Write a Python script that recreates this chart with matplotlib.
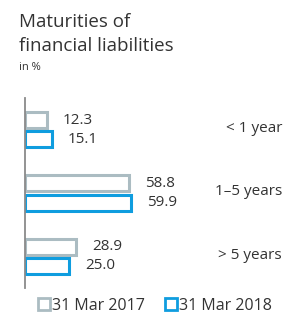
import matplotlib.pyplot as plt
from matplotlib.lines import Line2D
import matplotlib.transforms as mtransforms

plt.rcParams['font.family'] = ['Open Sans', 'DejaVu Sans']

# data
categories = ['< 1 year', '1\u20135 years', '> 5 years']
values_2017 = [12.3, 58.8, 28.9]
values_2018 = [15.1, 59.9, 25.0]
series_labels = ['31 Mar 2017', '31 Mar 2018']

gray = '#abbcc2'
blue = '#0f9ddf'
text_color = '#333333'

W, H = 284, 316
fig = plt.figure(figsize=(W / 100, H / 100), dpi=100)

# axes box in pixels: left line at x=25, from y=98 to y=288
ax = fig.add_axes([25 / W, (H - 288) / H, (260 - 25) / W, (288 - 98) / H])
ax.set_xlim(0, 235 / 1.77)
ax.set_ylim(3.0, 0)

centers = [0.5, 1.5, 2.5]
off = 0.152
bh = 0.25
y17 = [c - off for c in centers]
y18 = [c + off for c in centers]

ax.barh(y17, values_2017, height=bh, color='white', edgecolor=gray, linewidth=2.2)
ax.barh(y18, values_2018, height=bh, color='white', edgecolor=blue, linewidth=2.2)

for y, v in zip(y17, values_2017):
    ax.annotate(f'{v:.1f}', (v, y), xytext=(11.5, 0), textcoords='offset points',
                va='center', ha='left', fontsize=11, color=text_color)
for y, v in zip(y18, values_2018):
    ax.annotate(f'{v:.1f}', (v, y), xytext=(11.5, 0), textcoords='offset points',
                va='center', ha='left', fontsize=11, color=text_color)

trans = mtransforms.blended_transform_factory(fig.transFigure, ax.transData)
for c, lab in zip(centers, categories):
    ax.text(282 / W, c - 0.02, lab, transform=trans, ha='right', va='center',
            fontsize=11, color=text_color)

for s in ['top', 'right', 'bottom']:
    ax.spines[s].set_visible(False)
ax.spines['left'].set_color('#8a8a8a')
ax.spines['left'].set_linewidth(1.3)
ax.set_xticks([])
ax.set_yticks([])

fig.text(19 / W, 1 - 22 / H, 'Maturities of', fontsize=13.5, color=text_color, va='center')
fig.text(19 / W, 1 - 46 / H, 'financial liabilities', fontsize=13.5, color=text_color, va='center')
fig.text(19 / W, 1 - 67 / H, 'in %', fontsize=8, color=text_color, va='center')

handles = [Line2D([], [], marker='s', linestyle='none', markersize=8,
                  markerfacecolor='white', markeredgecolor=gray, markeredgewidth=2),
           Line2D([], [], marker='s', linestyle='none', markersize=8,
                  markerfacecolor='white', markeredgecolor=blue, markeredgewidth=2)]
fig.legend(handles, series_labels, loc='center', bbox_to_anchor=(155 / W, 1 - 306 / H),
           ncol=2, frameon=False, fontsize=11.5, handlelength=0.7, handletextpad=0.15,
           columnspacing=1.3, borderpad=0, labelcolor=text_color)

fig.savefig('out.png', dpi=100)
